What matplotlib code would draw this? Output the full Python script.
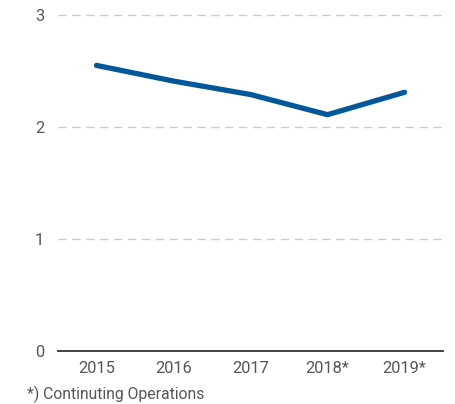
import matplotlib
matplotlib.use('Agg')
import matplotlib.pyplot as plt

# Daten
jahre = ['2015', '2016', '2017', '2018*', '2019*']
werte = [2.55, 2.41, 2.29, 2.11, 2.31]
y_ticks = [0, 1, 2, 3]

plt.rcParams['font.family'] = ['Roboto', 'DejaVu Sans']

fig = plt.figure(figsize=(4.55, 4.04), dpi=100)
ax = fig.add_axes([58 / 455, 1 - 351 / 404, (443 - 58) / 455, (351 - 15) / 404])

x = range(len(jahre))
ax.plot(x, werte, color='#00589b', linewidth=3.8, solid_capstyle='round',
        solid_joinstyle='round', clip_on=False, zorder=3)

ax.set_xlim(-0.5, len(jahre) - 0.5)
ax.set_ylim(0, 3)
ax.set_yticks(y_ticks)
ax.set_xticks(list(x))
ax.set_xticklabels(jahre)

# Gitterlinien
for t in y_ticks[1:]:
    ax.axhline(t, color='#cccccc', linewidth=1.0, linestyle=(0, (6, 4)), zorder=1, clip_on=False)

for s in ['top', 'right', 'left']:
    ax.spines[s].set_visible(False)
ax.spines['bottom'].set_color('#333333')
ax.spines['bottom'].set_linewidth(1.3)

ax.tick_params(axis='both', length=0, colors='#555555', labelsize=11.8)
ax.tick_params(axis='y', pad=10)
ax.tick_params(axis='x', pad=7)

fig.text(27 / 455, 1 - 394 / 404, '*) Continuting Operations', fontsize=11.3,
         color='#555555', va='center', ha='left')

plt.savefig('out.png', dpi=100)
plt.close()
